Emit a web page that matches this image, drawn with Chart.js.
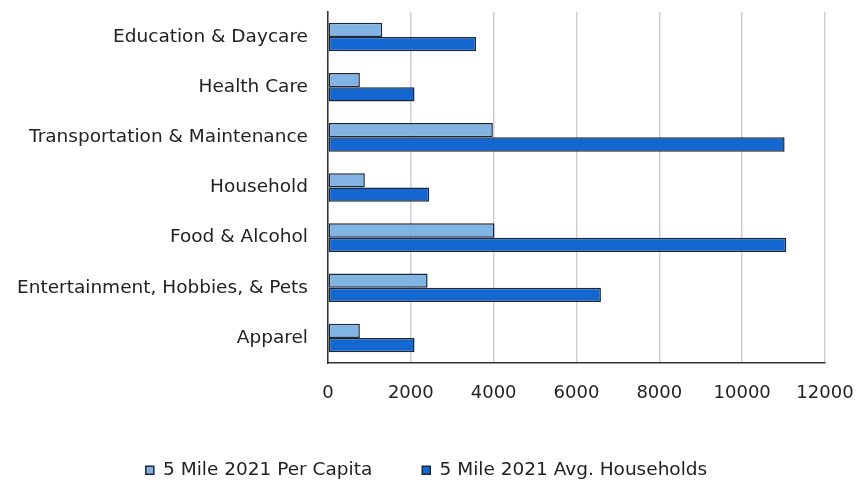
<!DOCTYPE html>
<html>
<head>
<meta charset="utf-8">
<script src="https://cdn.jsdelivr.net/npm/chart.js@4/dist/chart.umd.min.js"></script>
<style>
  html, body { margin: 0; padding: 0; background: #fff; }
  #wrap { width: 856px; height: 487px; }
</style>
</head>
<body>
<div id="wrap"><canvas id="mainChart"></canvas></div>
<script>
// Data
const categories = [
    'Education & Daycare',
    'Health Care',
    'Transportation & Maintenance',
    'Household',
    'Food & Alcohol',
    'Entertainment, Hobbies, & Pets',
    'Apparel'
];
const perCapita = [1310, 770, 3980, 890, 4020, 2405, 770];
const avgHouseholds = [3575, 2090, 11025, 2445, 11065, 6590, 2090];
const xTicks = [0, 2000, 4000, 6000, 8000, 10000, 12000];

Chart.defaults.font.family = 'DejaVu Sans';
Chart.defaults.font.size = 18;
Chart.defaults.color = '#222';

const ctx = document.getElementById('mainChart').getContext('2d');
const mainChart = new Chart(ctx, {
    type: 'bar',
    data: {
        labels: categories,
        datasets: [
            {
                label: '5 Mile 2021 Per Capita',
                data: perCapita,
                backgroundColor: '#82b4e3',
                borderColor: '#1c2838',
                borderWidth: 1.5,
                borderSkipped: false,
                barPercentage: 1,
                categoryPercentage: 0.57
            },
            {
                label: '5 Mile 2021 Avg. Households',
                data: avgHouseholds,
                backgroundColor: '#1466d0',
                borderColor: '#1c2838',
                borderWidth: 1.5,
                borderSkipped: false,
                barPercentage: 1,
                categoryPercentage: 0.57
            }
        ]
    },
    options: {
        indexAxis: 'y',
        responsive: true,
        maintainAspectRatio: false,
        animation: false,
        layout: { padding: { top: 12, right: 0, bottom: 0, left: -3 } },
        scales: {
            x: {
                min: 0,
                max: 12000,
                afterBuildTicks: (scale) => { scale.ticks = xTicks.map(v => ({ value: v })); },
                grid: { color: '#cfcfcf', lineWidth: 1.5, drawTicks: false },
                border: { color: '#333', width: 1.5 },
                ticks: { padding: 20, color: '#222', callback: (v) => String(v) },
                afterFit: (scale) => {
                    scale.height = 48;
                    scale.paddingLeft = 0;
                    scale.paddingRight = 31;
                }
            },
            y: {
                grid: { display: false, drawTicks: false },
                border: { color: '#333', width: 1.5 },
                ticks: { padding: 20, color: '#222', font: { size: 18.5 } },
                afterFit: (scale) => {
                    scale.paddingTop = 0;
                    scale.paddingBottom = 0;
                }
            }
        },
        plugins: {
            legend: {
                position: 'bottom',
                maxHeight: 76,
                labels: {
                    boxWidth: 8,
                    boxHeight: 8,
                    padding: 50,
                    color: '#222',
                    font: { size: 18.5 }
                }
            },
            tooltip: { enabled: false }
        }
    }
});
</script>
</body>
</html>
